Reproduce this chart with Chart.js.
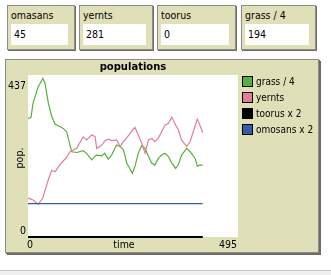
<!DOCTYPE html>
<html>
<head>
<meta charset="utf-8">
<script src="https://cdn.jsdelivr.net/npm/chart.js@4"></script>
<style>
  html, body { margin: 0; padding: 0; width: 331px; height: 275px; overflow: hidden; background: #fff; font-family: "DejaVu Sans Condensed", "DejaVu Sans", sans-serif; }
  .mon { position: absolute; top: 5px; height: 45px; background: #e0e0b8; border: 1px solid #8c8c8c; box-shadow: 1px 1px 0 #6e6e62; box-sizing: border-box; }
  .mon .lab { position: absolute; left: 3px; top: 3px; font-size: 10.5px; color: #000; }
  .mon .val { position: absolute; left: 3px; right: 6px; top: 18px; height: 21px; background: #fff; font-size: 10.5px; line-height: 21px; padding-left: 3px; color: #000; }
  #plot { position: absolute; left: 5px; top: 59px; width: 314px; height: 194px; background: #e0e0b8; border: 1px solid #8c8c8c; box-shadow: 1px 1px 0 #6e6e62, 2px 2px 0 #6e6e62; box-sizing: border-box; }
  #foot { position: absolute; left: 0; top: 270px; width: 331px; height: 5px; background: #f0f0f0; border-top: 1px solid #c4c4c4; }
  #c { position: absolute; left: 0; top: 0; }
</style>
</head>
<body>
<div id="monitors"></div>
<div id="plot"></div>
<div id="foot"></div>
<canvas id="c" width="331" height="275"></canvas>
<script>
const monitorNames = ["omasans", "yernts", "toorus", "grass / 4"];
const monitorValues = [45, 281, 0, 194];
const monitorLefts = [7, 79, 157, 241];
const monitorWidths = [68, 74, 79, 75];

const times = [0, 7, 12, 24, 35, 40, 48, 56, 64, 75, 83, 91, 99, 103, 115, 130, 138, 150, 158, 162,
  174, 181, 189, 197, 209, 217, 225, 233, 240, 246, 252, 260, 268, 276, 284, 292, 299, 307, 315, 323,
  331, 339, 348, 354, 362, 374, 382, 394, 399, 405, 412];
const grass = [320, 322, 361, 405, 428, 415, 361, 325, 304, 298, 293, 284, 248, 230, 228, 233, 226, 208, 218, 221,
  219, 226, 210, 221, 248, 244, 235, 199, 185, 172, 190, 226, 246, 239, 217, 199, 194, 212, 221, 226,
  217, 199, 185, 194, 221, 239, 230, 212, 191, 194, 194];
const yernts = [104, 102, 100, 88, 105, 125, 155, 180, 176, 195, 205, 215, 230, 232, 240, 270, 262, 275, 271, 239,
  248, 259, 264, 260, 262, 244, 257, 268, 278, 288, 296, 275, 253, 226, 262, 266, 257, 266, 284, 302,
  307, 323, 302, 290, 262, 244, 257, 300, 318, 302, 281];
const toorus = times.map(() => 0);
const omosans = times.map(() => 90);

const seriesLabels = ["grass / 4", "yernts", "toorus x 2", "omosans x 2"];
const seriesColors = ["#59b03c", "#e07f96", "#000000", "#345da9"];
const xTicks = [0, 495];
const yTicks = [0, 437];

const mons = document.getElementById("monitors");
monitorNames.forEach((n, i) => {
  const d = document.createElement("div");
  d.className = "mon";
  d.style.left = monitorLefts[i] + "px";
  d.style.width = monitorWidths[i] + "px";
  d.innerHTML = '<div class="lab">' + n + '</div><div class="val">' + monitorValues[i] + '</div>';
  mons.appendChild(d);
});

const pts = arr => arr.map((v, i) => ({ x: times[i], y: v }));
const FONT = "'DejaVu Sans Condensed', 'DejaVu Sans'";

const decor = {
  id: "decor",
  beforeDatasetsDraw(chart) {
    const { ctx, chartArea: a } = chart;
    ctx.save();
    ctx.fillStyle = "#fff";
    ctx.fillRect(a.left, a.top, a.right - a.left, a.bottom - a.top);
    ctx.restore();
  },
  afterDraw(chart) {
    const { ctx, chartArea: a, scales } = chart;
    const x = scales.x, y = scales.y;
    ctx.save();
    ctx.fillStyle = "#000";
    ctx.font = "bold 10px 'DejaVu Sans'";
    ctx.textAlign = "center";
    ctx.fillText("populations", (a.left + a.right) / 2, 70);

    ctx.font = "10.5px " + FONT;
    ctx.textAlign = "right";
    ctx.fillText(String(yTicks[1]), 26, y.getPixelForValue(yTicks[1]) + 14);
    ctx.fillText(String(yTicks[0]), 26, y.getPixelForValue(yTicks[0]) - 3);

    ctx.textAlign = "left";
    ctx.fillText(String(xTicks[0]), x.getPixelForValue(xTicks[0]) - 1, 248);
    ctx.textAlign = "right";
    ctx.fillText(String(xTicks[1]), x.getPixelForValue(xTicks[1]) - 1, 248);
    ctx.textAlign = "center";
    ctx.fillText("time", 124, 248);

    ctx.save();
    ctx.translate(23, (a.top + a.bottom) / 2 + 2);
    ctx.rotate(-Math.PI / 2);
    ctx.fillText("pop.", 0, 0);
    ctx.restore();

    ctx.font = "10px " + FONT;
    ctx.textAlign = "left";
    seriesLabels.forEach((l, i) => {
      const yy = 76 + i * 16;
      ctx.fillStyle = seriesColors[i];
      ctx.fillRect(242, yy, 11, 11);
      ctx.strokeStyle = "#000";
      ctx.lineWidth = 1;
      ctx.strokeRect(242.5, yy + 0.5, 10, 10);
      ctx.fillStyle = "#000";
      ctx.fillText(l, 256, yy + 9);
    });
    ctx.restore();
  }
};

new Chart(document.getElementById("c").getContext("2d"), {
  type: "line",
  data: {
    datasets: [
      { label: seriesLabels[2], data: pts(toorus), borderColor: seriesColors[2], borderWidth: 2, clip: false },
      { label: seriesLabels[3], data: pts(omosans), borderColor: seriesColors[3], borderWidth: 1.2 },
      { label: seriesLabels[1], data: pts(yernts), borderColor: seriesColors[1], borderWidth: 1.2 },
      { label: seriesLabels[0], data: pts(grass), borderColor: seriesColors[0], borderWidth: 1.2 }
    ]
  },
  options: {
    responsive: false,
    devicePixelRatio: 1,
    animation: false,
    elements: { point: { radius: 0 }, line: { tension: 0 } },
    layout: { padding: { left: 28, top: 75, right: 93, bottom: 38 } },
    scales: {
      x: { type: "linear", min: xTicks[0], max: xTicks[1], display: false },
      y: { type: "linear", min: yTicks[0], max: yTicks[1], display: false }
    },
    plugins: { legend: { display: false }, tooltip: { enabled: false } }
  },
  plugins: [decor]
});
</script>
</body>
</html>
